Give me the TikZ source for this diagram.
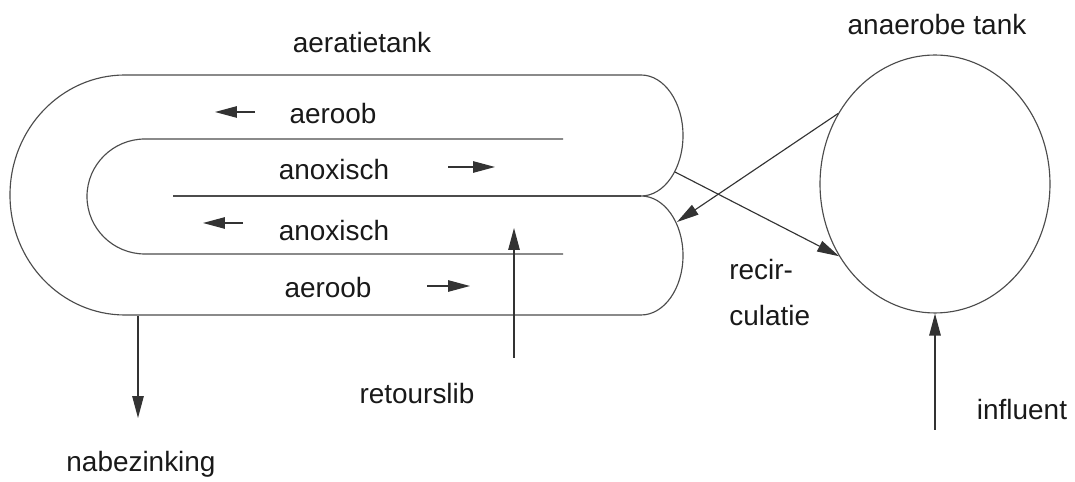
\documentclass[tikz,border=0pt]{standalone}
\usepackage{fontspec}
\setmainfont{Liberation Sans}
\usetikzlibrary{arrows.meta,shapes.geometric}
\tikzset{
  tankline/.style={draw=black!70, line width=0.65pt},
  flow/.style={draw=black!80, line width=0.65pt, -{Triangle[length=0.44cm,width=0.23cm]}},
  lbl/.style={text=black!90, font=\fontsize{15.9}{19}\selectfont, inner sep=0pt},
}

\begin{document}
\begin{tikzpicture}[x=0.02cm, y=-0.02cm]
  \useasboundingbox (0,0) rectangle (1075,482);
  %% aeratietank: outer wall, two lobes on the right
  \draw[tankline] (125,75) -- (641,75)
    arc[start angle=-90, end angle=90, x radius=42, y radius=60.5]
    arc[start angle=-90, end angle=90, x radius=42, y radius=59.5]
    -- (125,315)
    arc[start angle=90, end angle=270, x radius=115, y radius=120];
  \draw[tankline] (563,139) -- (145,139)
    arc[start angle=270, end angle=90, x radius=58, y radius=57.5]
    -- (563,254);
  \draw[tankline] (173,196) -- (641,196);
  %% channels
  \node[lbl] (tanklbl) at (362,43) {aeratietank};
  \node[lbl] (aerA) at (333,114) {aeroob};
  \node[lbl] (anoxA) at (334,170) {anoxisch};
  \node[lbl] (anoxB) at (334,231) {anoxisch};
  \node[lbl] (aerB) at (328,288) {aeroob};
  \draw[flow] (255,112) -- (215,112);
  \draw[flow] (448,167) -- (495,167);
  \draw[flow] (243,223) -- (203,223);
  \draw[flow] (427,286) -- (470,286);
  %% anaerobe tank
  \node[ellipse, tankline, minimum width=4.6cm, minimum height=5.16cm, inner sep=0pt]
    (anaer) at (935,184) {};
  \node[lbl] (anaerlbl) at (937,25) {anaerobe tank};
  %% recirculatie
  \coordinate (lobeA) at (675,172);
  \coordinate (lobeB) at (677,222);
  \draw[flow] (lobeA) -- (anaer.217.9);
  \draw[flow] (anaer.144.8) -- (lobeB);
  \node[lbl, anchor=base west] (recirA) at (729,280) {recir-};
  \node[lbl, anchor=base west] (recirB) at (729,326) {culatie};
  %% influent
  \coordinate (inflin) at (935,430);
  \draw[flow] (inflin) -- (anaer.south);
  \node[lbl] (inflbl) at (1022,410) {influent};
  %% retourslib
  \coordinate (retA) at (514,358);
  \coordinate (retB) at (514,228);
  \draw[flow] (retA) -- (retB);
  \node[lbl] (retlbl) at (417,394) {retourslib};
  %% nabezinking
  \coordinate (outA) at (138,316);
  \coordinate (outB) at (138,418);
  \draw[flow] (outA) -- (outB);
  \node[lbl] (nablbl) at (141,464) {nabezinking};
\end{tikzpicture}
\end{document}
